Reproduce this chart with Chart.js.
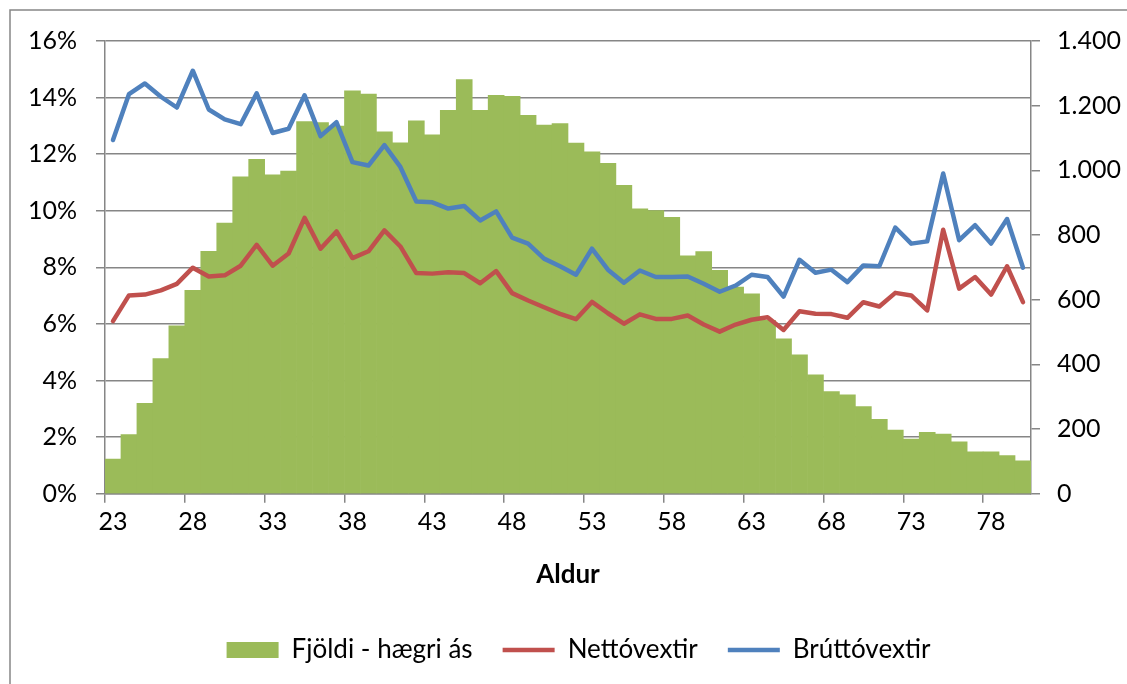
<!DOCTYPE html>
<html>
<head>
<meta charset="utf-8">
<script src="https://cdn.jsdelivr.net/npm/chart.js@4.4.1/dist/chart.umd.min.js"></script>
<style>
  html, body { margin: 0; padding: 0; background: #fff; }
  #wrap { width: 1127px; height: 684px; }
</style>
</head>
<body>
<div id="wrap"><canvas id="aldurChart" width="1127" height="684"></canvas></div>
<script>
var ages = [23, 24, 25, 26, 27, 28, 29, 30, 31, 32, 33, 34, 35, 36, 37, 38, 39, 40, 41, 42,
            43, 44, 45, 46, 47, 48, 49, 50, 51, 52, 53, 54, 55, 56, 57, 58, 59, 60, 61,
            62, 63, 64, 65, 66, 67, 68, 69, 70, 71, 72, 73, 74, 75, 76, 77, 78, 79, 80];

// fjoldi (right axis)
var fjoldi = [107, 183, 280, 418, 519, 629, 750, 837, 980, 1034, 986, 998, 1151, 1148, 1137, 1246, 1236, 1119, 1085, 1153,
              1110, 1186, 1281, 1186, 1232, 1229, 1170, 1140, 1145, 1084, 1057, 1022, 954, 881, 876, 855, 736, 749, 691,
              639, 618, 536, 479, 430, 368, 316, 306, 270, 230, 197, 169, 190, 185, 161, 130, 130, 118, 102];

// vextir in %
var netto = [6.10, 7.01, 7.04, 7.19, 7.42, 7.99, 7.68, 7.72, 8.06, 8.80, 8.06, 8.49, 9.75, 8.66, 9.27, 8.33, 8.57, 9.31, 8.74, 7.80,
             7.78, 7.83, 7.80, 7.44, 7.87, 7.09, 6.83, 6.59, 6.36, 6.17, 6.78, 6.38, 6.01, 6.34, 6.18, 6.18, 6.30, 5.98, 5.73,
             5.98, 6.15, 6.24, 5.79, 6.45, 6.36, 6.35, 6.22, 6.77, 6.62, 7.10, 7.01, 6.48, 9.33, 7.25, 7.66, 7.04, 8.04, 6.77];

var brutto = [12.50, 14.12, 14.50, 14.03, 13.65, 14.95, 13.58, 13.23, 13.06, 14.15, 12.75, 12.90, 14.08, 12.64, 13.13, 11.72, 11.60, 12.32, 11.55, 10.33,
              10.30, 10.08, 10.17, 9.66, 9.98, 9.05, 8.84, 8.31, 8.04, 7.74, 8.66, 7.92, 7.46, 7.89, 7.66, 7.66, 7.68, 7.42, 7.14,
              7.36, 7.74, 7.66, 6.97, 8.27, 7.81, 7.92, 7.48, 8.07, 8.04, 9.41, 8.84, 8.92, 11.32, 8.96, 9.49, 8.84, 9.71, 7.99];

var leftTicks = [0, 2, 4, 6, 8, 10, 12, 14, 16];
var rightTicks = [0, 200, 400, 600, 800, 1000, 1200, 1400];

var axisGray = '#868686';
var fontName = 'Lato';

// outer frame like the excel chart area
var frame = {
    id: 'frame',
    beforeDraw: function(chart) {
        var c = chart.ctx;
        c.save();
        c.fillStyle = '#fff';
        c.fillRect(0, 0, chart.width, chart.height);
        c.strokeStyle = axisGray;
        c.lineWidth = 1.5;
        c.strokeRect(10, 10, 1300, 1000);
        c.restore();
    }
};

var ctx = document.getElementById("aldurChart").getContext("2d");
var aldurChart = new Chart(ctx, {
    type: 'bar',
    data: {
        labels: ages,
        datasets: [{
            label: 'Fjöldi - hægri ás',
            data: fjoldi,
            yAxisID: 'y1',
            backgroundColor: '#9bbb59',
            borderWidth: 0,
            barPercentage: 1,
            categoryPercentage: 1,
            pointStyle: 'rect',
            order: 2
        }, {
            type: 'line',
            label: 'Nettóvextir',
            data: netto,
            yAxisID: 'y',
            borderColor: '#c0504d',
            backgroundColor: '#c0504d',
            borderWidth: 4.5,
            borderCapStyle: 'round',
            borderJoinStyle: 'round',
            pointRadius: 0,
            pointStyle: 'line',
            tension: 0,
            order: 1
        }, {
            type: 'line',
            label: 'Brúttóvextir',
            data: brutto,
            yAxisID: 'y',
            borderColor: '#4f81bd',
            backgroundColor: '#4f81bd',
            borderWidth: 4.5,
            borderCapStyle: 'round',
            borderJoinStyle: 'round',
            pointRadius: 0,
            pointStyle: 'line',
            tension: 0,
            order: 0
        }]
    },
    options: {
        responsive: false,
        animation: false,
        layout: { padding: { top: 41, left: 30, right: 0, bottom: 11 } },
        plugins: {
            tooltip: { enabled: false },
            legend: {
                position: 'bottom',
                labels: {
                    usePointStyle: true,
                    pointStyleWidth: 52,
                    boxHeight: 16,
                    padding: 30,
                    color: '#000',
                    font: { family: fontName, size: 26 },
                    sort: function(a, b) { return a.datasetIndex - b.datasetIndex; }
                }
            }
        },
        scales: {
            x: {
                offset: true,
                grid: {
                    offset: true,
                    drawOnChartArea: false,
                    tickLength: 9,
                    lineWidth: 1.5,
                    color: function(c) { return c.index % 5 === 0 ? axisGray : 'rgba(0,0,0,0)'; }
                },
                border: { color: axisGray, width: 1.5 },
                ticks: {
                    autoSkip: false,
                    maxRotation: 0,
                    padding: 4,
                    color: '#000',
                    font: { family: fontName, size: 25 },
                    callback: function(v, i) { return (ages[i] - 23) % 5 === 0 ? String(ages[i]) : ''; }
                },
                title: {
                    display: true,
                    text: 'Aldur',
                    color: '#000',
                    font: { family: fontName, size: 26, weight: 'bold' },
                    padding: { top: 18, bottom: 17 }
                }
            },
            y: {
                position: 'left',
                min: 0,
                max: 16,
                afterBuildTicks: function(s) { s.ticks = leftTicks.map(function(v) { return { value: v }; }); },
                afterFit: function(s) { s.width = 75; },
                grid: { color: axisGray, lineWidth: 1.5, tickLength: 9 },
                border: { color: axisGray, width: 1.5 },
                ticks: {
                    padding: 19,
                    color: '#000',
                    font: { family: fontName, size: 25 },
                    callback: function(v) { return v + '%'; }
                }
            },
            y1: {
                position: 'right',
                min: 0,
                max: 1400,
                afterBuildTicks: function(s) { s.ticks = rightTicks.map(function(v) { return { value: v }; }); },
                afterFit: function(s) { s.width = 96; },
                grid: { drawOnChartArea: false, color: axisGray, lineWidth: 1.5, tickLength: 9 },
                border: { color: axisGray, width: 1.5 },
                ticks: {
                    padding: 17,
                    color: '#000',
                    font: { family: fontName, size: 25 },
                    callback: function(v) { return String(v).replace(/\B(?=(\d{3})+(?!\d))/g, '.'); }
                }
            }
        }
    },
    plugins: [frame]
});
</script>
</body>
</html>
